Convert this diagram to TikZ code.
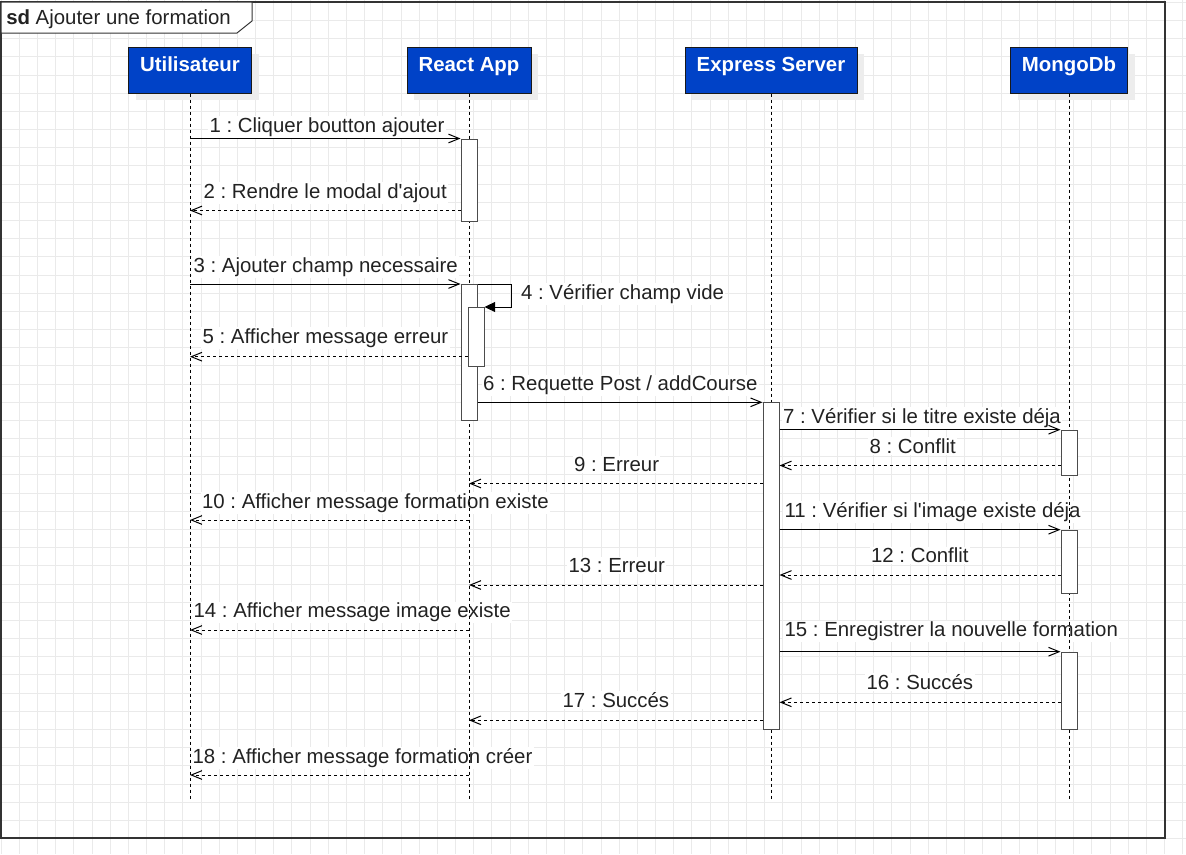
\documentclass[tikz,border=0pt]{standalone}
\usepackage{fontspec}
\setmainfont{Liberation Sans}
\usetikzlibrary{arrows.meta, positioning, shadows}
\definecolor{headblue}{RGB}{0,66,199}
\definecolor{gridgray}{RGB}{234,234,234}
\definecolor{inkgray}{RGB}{34,34,34}
\frenchspacing

\begin{document}
\begin{tikzpicture}[
    x=0.75pt, y=-0.75pt,
    font=\fontsize{15.3}{18}\selectfont,
    gridline/.style={draw=gridgray, line width=0.75pt},
    sdframe/.style={draw=black!80, line width=1.1pt},
    head/.style={draw=black!90, line width=0.75pt, fill=headblue, text=white, font=\fontsize{15.3}{18}\selectfont\bfseries, minimum height=34.5pt, text height=11pt, text depth=8.75pt, inner sep=0pt, drop shadow={shadow xshift=5.25pt, shadow yshift=-5.25pt, fill=black!7, opacity=1, draw=none}},
    life/.style={draw=black, line width=0.75pt, dash pattern=on 2.25pt off 2.25pt},
    act/.style={draw=black!70, line width=0.75pt, fill=white, minimum width=12pt, minimum height=#1*0.75pt, inner sep=0pt, anchor=north},
    call/.style={draw=black, line width=0.75pt, -{Straight Barb[length=8pt, width=6.5pt]}},
    ret/.style={call, dash pattern=on 2.25pt off 2.25pt},
    selfcall/.style={draw=black, line width=0.75pt, -{Triangle[length=8pt, width=7.5pt]}},
    lbl/.style={fill=white, inner sep=1pt, anchor=base west, text=inkgray}
]
\path[use as bounding box, fill=white] (0,0) rectangle (1186,854);

% background grid
\foreach \i in {0,...,65}
    \draw[gridline] ({1.1+18.18*\i},0) -- ++(0,854);
\foreach \j in {0,...,46}
    \draw[gridline] (0,{2.3+18.18*\j}) -- ++(1186,0);

% frame
\draw[sdframe] (1,2) rectangle (1165,838);
\draw[sdframe, fill=white, line width=0.75pt] (1,2) -- (252,2) -- (252,21) -- (237,33) -- (1,33) -- cycle;
\node[anchor=base west, inner sep=0pt, text=inkgray] (title) at (6,24) {\textbf{sd} Ajouter une formation};

% message levels
\coordinate (bottom) at (0,800);
\foreach \n/\y in {1/138.5, 2/210.5, 3/284, 5/356.7, 6/402.3, 7/429.7, 8/465.5, 9/483.5, 10/520, 11/529.7, 12/575, 13/585, 14/630, 15/651.7, 16/702.3, 17/720.3, 18/775}
    \coordinate (t\n) at (0,\y);

% message labels
\node[lbl] (l1) at (208,132.3) {1 : Cliquer boutton ajouter};
\node[lbl] (l2) at (202,198.3) {2 : Rendre le modal d\textquotesingle ajout};
\node[lbl] (l3) at (192,272) {3 : Ajouter champ necessaire};
\node[lbl] (l4) at (519.5,299.3) {4 : Vérifier champ vide};
\node[lbl] (l5) at (201,343.3) {5 : Afficher message erreur};
\node[lbl] (l6) at (481.5,390.7) {6 : Requette Post / addCourse};
\node[lbl] (l7) at (781.5,423.3) {7 : Vérifier si le titre existe déja};
\node[lbl] (l8) at (868,453.3) {8 : Conflit};
\node[lbl] (l9) at (572.5,471.7) {9 : Erreur};
\node[lbl] (l10) at (200.5,508.3) {10 : Afficher message formation existe};
\node[lbl] (l11) at (783,517.7) {11 : Vérifier si l\textquotesingle image existe déja};
\node[lbl] (l12) at (869.5,562.7) {12 : Conflit};
\node[lbl] (l13) at (567,572.7) {13 : Erreur};
\node[lbl] (l14) at (192,617.7) {14 : Afficher message image existe};
\node[lbl] (l15) at (783,636.7) {15 : Enregistrer la nouvelle formation};
\node[lbl] (l16) at (865,689.3) {16 : Succés};
\node[lbl] (l17) at (561,707.7) {17 : Succés};
\node[lbl] (l18) at (191,763.3) {18 : Afficher message formation créer};

% lifelines
\node[head, minimum width=92.25pt] (user) at (190,70) {Utilisateur};
\node[head, minimum width=93pt] (react) at (469,70) {React App};
\node[head, minimum width=129pt] (express) at (771,70) {Express Server};
\node[head, minimum width=87.75pt] (mongo) at (1069,70) {MongoDb};

\draw[life] (user.south) -- (user |- bottom);
\draw[life] (react.south) -- (react |- bottom);
\draw[life] (express.south) -- (express |- bottom);
\draw[life] (mongo.south) -- (mongo |- bottom);

% activations
\node[act=82] (rA1) at (469,138.5) {};
\node[act=136] (rA2) at (469,284) {};
\node[act=59] (rA3) at (476,307) {};
\node[act=327] (eA) at (771,402.3) {};
\node[act=45] (mA1) at (1069,429.7) {};
\node[act=63] (mA2) at (1069,529.7) {};
\node[act=77] (mA3) at (1069,651.7) {};

% messages
\draw[call] (user |- t1) -- (rA1.west |- t1);
\draw[ret] (rA1.west |- t2) -- (user |- t2);
\draw[call] (user |- t3) -- (rA2.west |- t3);
\draw[selfcall] (rA2.east |- t3) -- ++(34,0) |- (rA3.north east);
\draw[ret] (rA3.west |- t5) -- (user |- t5);
\draw[call] (rA2.east |- t6) -- (eA.west |- t6);
\draw[call] (eA.east |- t7) -- (mA1.west |- t7);
\draw[ret] (mA1.west |- t8) -- (eA.east |- t8);
\draw[ret] (eA.west |- t9) -- (react |- t9);
\draw[ret] (react |- t10) -- (user |- t10);
\draw[call] (eA.east |- t11) -- (mA2.west |- t11);
\draw[ret] (mA2.west |- t12) -- (eA.east |- t12);
\draw[ret] (eA.west |- t13) -- (react |- t13);
\draw[ret] (react |- t14) -- (user |- t14);
\draw[call] (eA.east |- t15) -- (mA3.west |- t15);
\draw[ret] (mA3.west |- t16) -- (eA.east |- t16);
\draw[ret] (eA.west |- t17) -- (react |- t17);
\draw[ret] (react |- t18) -- (user |- t18);
\end{tikzpicture}
\end{document}
